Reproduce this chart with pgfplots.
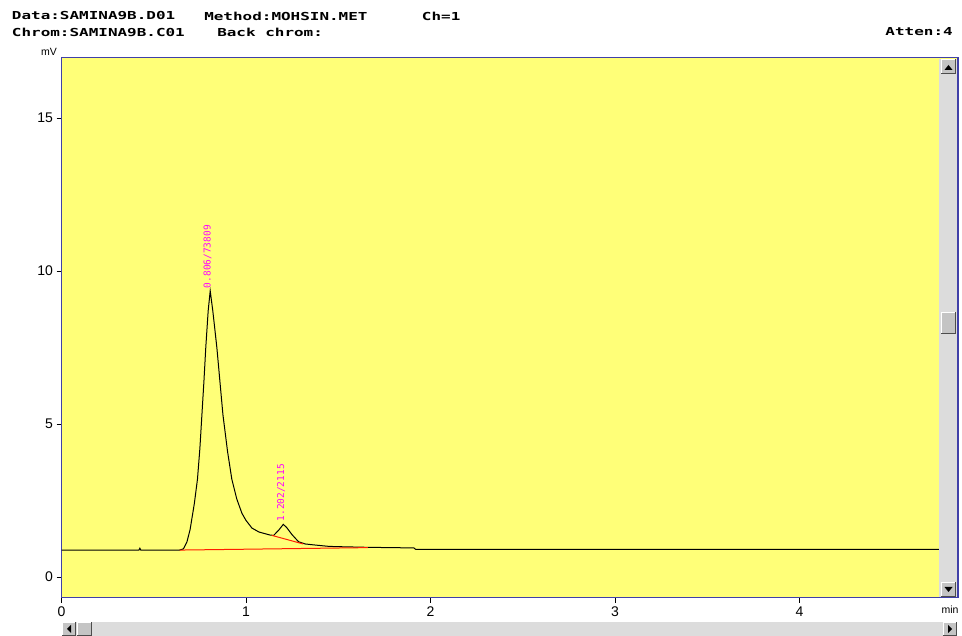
\documentclass[border=0pt]{standalone}
\usepackage{pgfplots}
\pgfplotsset{compat=1.18}
\usepackage{fontspec}
\setmainfont{Liberation Sans}
\newfontfamily\hdr{DejaVu Sans Mono}
\newfontfamily\pk{DejaVu Sans Mono}
\definecolor{bgy}{RGB}{255,255,120}
\definecolor{frm}{RGB}{64,64,168}
\definecolor{sbg}{RGB}{220,220,220}
\definecolor{btn}{RGB}{196,196,196}
\definecolor{mag}{RGB}{255,0,255}
\definecolor{redl}{RGB}{255,30,0}
\newcommand\btn[4]{%
  \fill[btn] (#1,#2) rectangle (#3,#4);
  \draw[white,line width=1pt] (#1+0.5,#2) -- (#1+0.5,#4-0.5) -- (#3,#4-0.5);
  \draw[black!70,line width=1pt] (#1,#2+0.5) -- (#3-0.5,#2+0.5) -- (#3-0.5,#4);
}
\begin{document}
\begin{tikzpicture}[x=1pt,y=1pt]
\path[use as bounding box] (0pt,0pt) rectangle (962pt,636pt);
\begin{axis}[at={(61.5pt,38pt)}, anchor=south west,
  width=896.5pt, height=540pt, scale only axis,
  xmin=0, xmax=4.859, ymin=-0.686, ymax=16.96,
  axis background/.style={fill=bgy},
  axis line style={frm, line width=1pt},
  xtick={0,1,2,3,4}, ytick={0,5,10,15},
  tick align=outside, major tick length=5pt,
  tick style={black, line width=0.8pt},
  xtick pos=bottom, ytick pos=left,
  ticklabel style={font=\fontsize{14}{14}\selectfont},
  /pgf/number format/assume math mode=true,
  clip=true]
\addplot[black, line width=1pt] coordinates {
(0,0.88) (0.42,0.88) (0.425,0.94) (0.43,0.88) (0.64,0.88)
(0.661,0.92) (0.68,1.15) (0.697,1.55) (0.72,2.4) (0.737,3.2)
(0.75,4.2) (0.761,5.3) (0.772,6.4) (0.782,7.5) (0.795,8.7)
(0.806,9.35) (0.82,8.7) (0.842,7.5) (0.86,6.3) (0.875,5.3)
(0.90,4.1) (0.923,3.2) (0.95,2.55) (0.978,2.08) (1.0,1.85)
(1.032,1.6) (1.07,1.47) (1.131,1.37) (1.15,1.36) (1.18,1.55)
(1.202,1.72) (1.22,1.62) (1.25,1.38) (1.285,1.15) (1.32,1.08)
(1.366,1.05) (1.45,1.0) (1.51,0.99) (1.656,0.97) (1.91,0.95)
(1.92,0.90) (4.756,0.90)
};
\addplot[redl, line width=1pt] coordinates {
(0.64,0.88) (0.9,0.90) (1.41,0.94) (1.66,0.96)
};
\addplot[redl, line width=1pt] coordinates {
(1.14,1.36) (1.31,1.08)
};
\node[rotate=90, anchor=west, inner sep=1pt, text=mag, font=\pk\fontsize{9.5}{9.5}\selectfont] at (axis cs:0.791,9.4) {0.806/73809};
\node[rotate=90, anchor=west, inner sep=1pt, text=mag, font=\pk\fontsize{9.5}{9.5}\selectfont] at (axis cs:1.19,1.78) {1.202/2115};
\end{axis}
% header
\begin{scope}[every node/.style={inner sep=0pt, anchor=west, xscale=1.45, font=\hdr\bfseries\fontsize{11}{11}\selectfont}]
\node at (11.7,620) {Data:SAMINA9B.D01};
\node at (204,620) {Method:MOHSIN.MET};
\node at (421.7,620) {Ch=1};
\node at (11.7,604) {Chrom:SAMINA9B.C01};
\node at (217,604) {Back chrom:};
\node[anchor=east] at (953,604) {Atten:4};
\end{scope}
\node[inner sep=0pt, anchor=east, font=\fontsize{10.5}{10.5}\selectfont] at (57,584) {mV};
\node[inner sep=0pt, font=\fontsize{10.5}{10.5}\selectfont] at (950,26) {min};
% vertical scrollbar
\fill[sbg] (939,39) rectangle (957,577);
\btn{941}{562}{956}{577}
\fill (944.5,566) -- (952.5,566) -- (948.5,571) -- cycle;
\btn{941}{302}{956}{324}
\btn{941}{39}{956}{54}
\fill (944.5,49) -- (952.5,49) -- (948.5,44) -- cycle;
\draw[frm, line width=1pt] (957.5,38) -- (957.5,578);
% horizontal scrollbar
\fill[sbg] (62,0) rectangle (957,14);
\btn{62}{0}{76}{14}
\fill (67,7) -- (71,11) -- (71,3) -- cycle;
\btn{77}{0}{92}{14}
\btn{943}{0}{957}{14}
\fill (952,7) -- (948,11) -- (948,3) -- cycle;
\end{tikzpicture}
\end{document}
